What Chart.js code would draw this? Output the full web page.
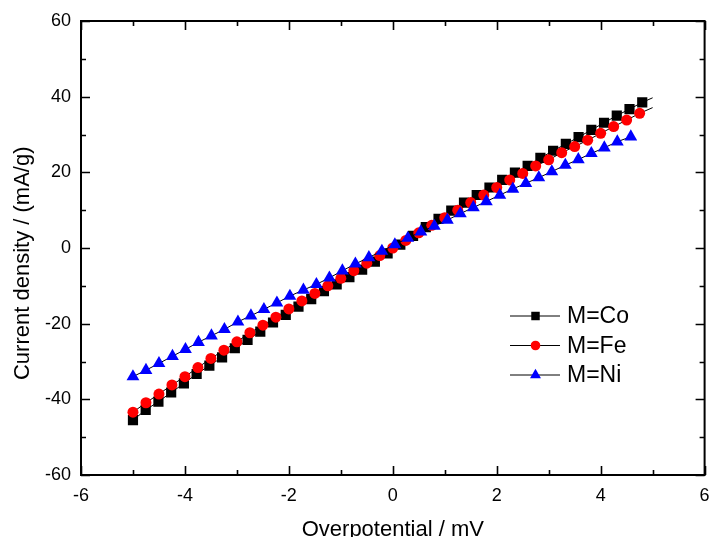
<!DOCTYPE html>
<html>
<head>
<meta charset="utf-8">
<script src="https://cdn.jsdelivr.net/npm/chart.js@4.4.0/dist/chart.umd.min.js"></script>
<style>
  html, body { margin: 0; padding: 0; background: #fff; }
  #wrap { width: 712px; height: 537px; }
</style>
</head>
<body>
<div id="wrap"><canvas id="chart-iv" width="712" height="537"></canvas></div>
<script>
// Polarisation data: overpotential (mV) vs current density (mA/g)
const coX = [-5, -4.755, -4.51, -4.265, -4.02, -3.775, -3.53, -3.285, -3.04, -2.795,
  -2.55, -2.305, -2.06, -1.815, -1.57, -1.325, -1.08, -0.835, -0.59, -0.345,
  -0.1, 0.145, 0.39, 0.635, 0.88, 1.125, 1.37, 1.615, 1.86, 2.105,
  2.35, 2.595, 2.84, 3.085, 3.33, 3.575, 3.82, 4.065, 4.31, 4.555, 4.8];
const coY = [-45.5, -42.8, -40.6, -38.2, -35.8, -33.3, -31.1, -28.9, -26.5, -24.3,
  -22.1, -19.7, -17.7, -15.5, -13.5, -11.4, -9.6, -7.7, -5.7, -3.6,
  -1.4, 0.9, 3.2, 5.5, 7.7, 9.9, 12.0, 14.0, 16.0, 18.0,
  19.9, 21.7, 23.8, 25.7, 27.5, 29.3, 31.2, 33.1, 35.0, 36.7, 38.5];

const feX = [-5, -4.75, -4.5, -4.25, -4, -3.75, -3.5, -3.25, -3, -2.75,
  -2.5, -2.25, -2, -1.75, -1.5, -1.25, -1, -0.75, -0.5, -0.25,
  0, 0.25, 0.5, 0.75, 1, 1.25, 1.5, 1.75, 2, 2.25,
  2.5, 2.75, 3, 3.25, 3.5, 3.75, 4, 4.25, 4.5, 4.75];
const feY = [-43.4, -40.9, -38.6, -36.2, -34.0, -31.6, -29.2, -27.0, -24.8, -22.4,
  -20.4, -18.3, -16.1, -14.0, -12.0, -10.0, -8.0, -6.0, -4.0, -2.0,
  0.0, 2.0, 4.0, 6.0, 8.0, 10.0, 12.0, 14.0, 16.0, 18.0,
  19.7, 21.7, 23.3, 25.2, 26.8, 28.5, 30.3, 32.1, 33.8, 35.6];

const niX = [-5, -4.75, -4.5, -4.24, -3.99, -3.74, -3.49, -3.24, -2.98, -2.73,
  -2.48, -2.23, -1.98, -1.72, -1.47, -1.22, -0.97, -0.72, -0.46, -0.21,
  0.04, 0.29, 0.54, 0.8, 1.05, 1.3, 1.55, 1.8, 2.06, 2.31,
  2.56, 2.81, 3.06, 3.32, 3.57, 3.82, 4.07, 4.32, 4.58];
const niY = [-34.0, -32.3, -30.5, -28.6, -26.8, -24.9, -23.2, -21.5, -19.5, -17.9,
  -16.2, -14.5, -12.7, -11.1, -9.6, -7.9, -6.0, -4.2, -2.5, -0.8,
  0.9, 2.6, 4.3, 5.8, 7.4, 9.1, 10.7, 12.3, 14.0, 15.6,
  17.1, 18.6, 20.2, 21.9, 23.4, 25.0, 26.5, 28.1, 29.4];

// fitted lines run a little past the last measured point
const coLineEnd = [5, 39.7];
const feLineEnd = [5, 37.1];

const seriesLabels = ['M=Co', 'M=Fe', 'M=Ni'];
const xTicks = { min: -6, max: 6, step: 2 };
const yTicks = { min: -60, max: 60, step: 20 };

const FONT = 'Liberation Sans, Arial, sans-serif';

function toPoints(xs, ys, tail) {
  const pts = xs.map((x, i) => ({ x, y: ys[i] }));
  if (tail) pts.push({ x: tail[0], y: tail[1] });
  return pts;
}

// hide the marker on the extra fitted-line end point
function markerOnly(n, r) {
  return ctx => (ctx.dataIndex < n ? r : 0);
}

const markers = [
  { style: 'rect', radius: 7.2, legendRadius: 6, color: '#000000' },
  { style: 'circle', radius: 5.5, legendRadius: 4.8, color: '#ff0000' },
  { style: 'triangle', radius: 7.4, legendRadius: 6.3, color: '#0000ff' }
];

// ============================================================
// Frame with inward major/minor ticks on all four sides
// ============================================================
const frameTicks = {
  id: 'frameTicks',
  afterDraw(chart) {
    const { ctx, chartArea: a, scales } = chart;
    ctx.save();
    ctx.strokeStyle = '#000';
    ctx.lineWidth = 1.6;
    const major = 9, minor = 5;

    const xs = scales.x.ticks.map(t => t.value);
    const ys = scales.y.ticks.map(t => t.value);
    const mids = vals => vals.slice(1).map((v, i) => (v + vals[i]) / 2);

    ctx.beginPath();
    [[xs, major], [mids(xs), minor]].forEach(([vals, len]) => {
      vals.forEach(v => {
        const px = Math.round(scales.x.getPixelForValue(v)) + 0.5;
        ctx.moveTo(px, a.bottom); ctx.lineTo(px, a.bottom - len);
        ctx.moveTo(px, a.top); ctx.lineTo(px, a.top + len);
      });
    });
    [[ys, major], [mids(ys), minor]].forEach(([vals, len]) => {
      vals.forEach(v => {
        const py = Math.round(scales.y.getPixelForValue(v)) + 0.5;
        ctx.moveTo(a.left, py); ctx.lineTo(a.left + len, py);
        ctx.moveTo(a.right, py); ctx.lineTo(a.right - len, py);
      });
    });
    ctx.stroke();

    ctx.lineWidth = 2;
    ctx.strokeRect(a.left, a.top, a.right - a.left, a.bottom - a.top);
    ctx.restore();
  }
};

// ============================================================
// Legend box drawn inside the plot area
// ============================================================
const insideLegend = {
  id: 'insideLegend',
  afterDraw(chart) {
    const ctx = chart.ctx;
    ctx.save();
    chart.data.datasets.forEach((ds, i) => {
      const y = 316 + i * 29.5;
      ctx.strokeStyle = ds.borderColor;
      ctx.lineWidth = 1;
      ctx.beginPath();
      ctx.moveTo(510, y);
      ctx.lineTo(560, y);
      ctx.stroke();

      const m = markers[i];
      ctx.fillStyle = m.color;
      ctx.strokeStyle = m.color;
      Chart.helpers.drawPoint(ctx, { pointStyle: m.style, radius: m.legendRadius, rotation: 0, borderWidth: 0 }, 535.5, y);

      ctx.fillStyle = '#000';
      ctx.font = '23px ' + FONT;
      ctx.textAlign = 'left';
      ctx.textBaseline = 'middle';
      ctx.fillText(ds.label, 567, y + 1);
    });
    ctx.restore();
  }
};

function makeDataset(i, xs, ys, tail) {
  const m = markers[i];
  return {
    label: seriesLabels[i],
    data: toPoints(xs, ys, tail),
    borderColor: '#000000',
    borderWidth: 1,
    backgroundColor: m.color,
    pointStyle: m.style,
    pointRadius: markerOnly(xs.length, m.radius),
    pointBackgroundColor: m.color,
    pointBorderColor: m.color,
    pointBorderWidth: 0,
    showLine: true,
    tension: 0,
    order: 2 - i
  };
}

const ctx = document.getElementById('chart-iv');
new Chart(ctx, {
  type: 'scatter',
  data: {
    datasets: [
      makeDataset(0, coX, coY, coLineEnd),
      makeDataset(1, feX, feY, feLineEnd),
      makeDataset(2, niX, niY, null)
    ]
  },
  options: {
    responsive: false,
    animation: false,
    devicePixelRatio: 1,
    layout: { padding: { left: 0, right: 4, top: 21, bottom: 0 } },
    plugins: {
      legend: { display: false },
      tooltip: { enabled: false }
    },
    scales: {
      x: {
        type: 'linear',
        min: xTicks.min,
        max: xTicks.max,
        ticks: {
          stepSize: xTicks.step,
          padding: 10,
          color: '#000',
          font: { family: FONT, size: 18 }
        },
        grid: { display: false, drawTicks: false },
        border: { display: false },
        title: {
          display: true,
          text: 'Overpotential / mV',
          color: '#000',
          font: { family: FONT, size: 22, lineHeight: 1 },
          padding: { top: 0, bottom: -4 }
        },
        afterFit: s => { s.height = 62; s.paddingLeft = 0; s.paddingRight = 0; }
      },
      y: {
        type: 'linear',
        min: yTicks.min,
        max: yTicks.max,
        ticks: {
          stepSize: yTicks.step,
          padding: 10,
          color: '#000',
          font: { family: FONT, size: 18 }
        },
        grid: { display: false, drawTicks: false },
        border: { display: false },
        title: {
          display: true,
          text: 'Current density / (mA/g)     ',
          color: '#000',
          font: { family: FONT, size: 22, lineHeight: 1 },
          padding: { top: 11.5, bottom: 0 }
        },
        afterFit: s => { s.width = 81; s.paddingTop = 0; s.paddingBottom = 0; }
      }
    }
  },
  plugins: [frameTicks, insideLegend]
});
</script>
</body>
</html>
